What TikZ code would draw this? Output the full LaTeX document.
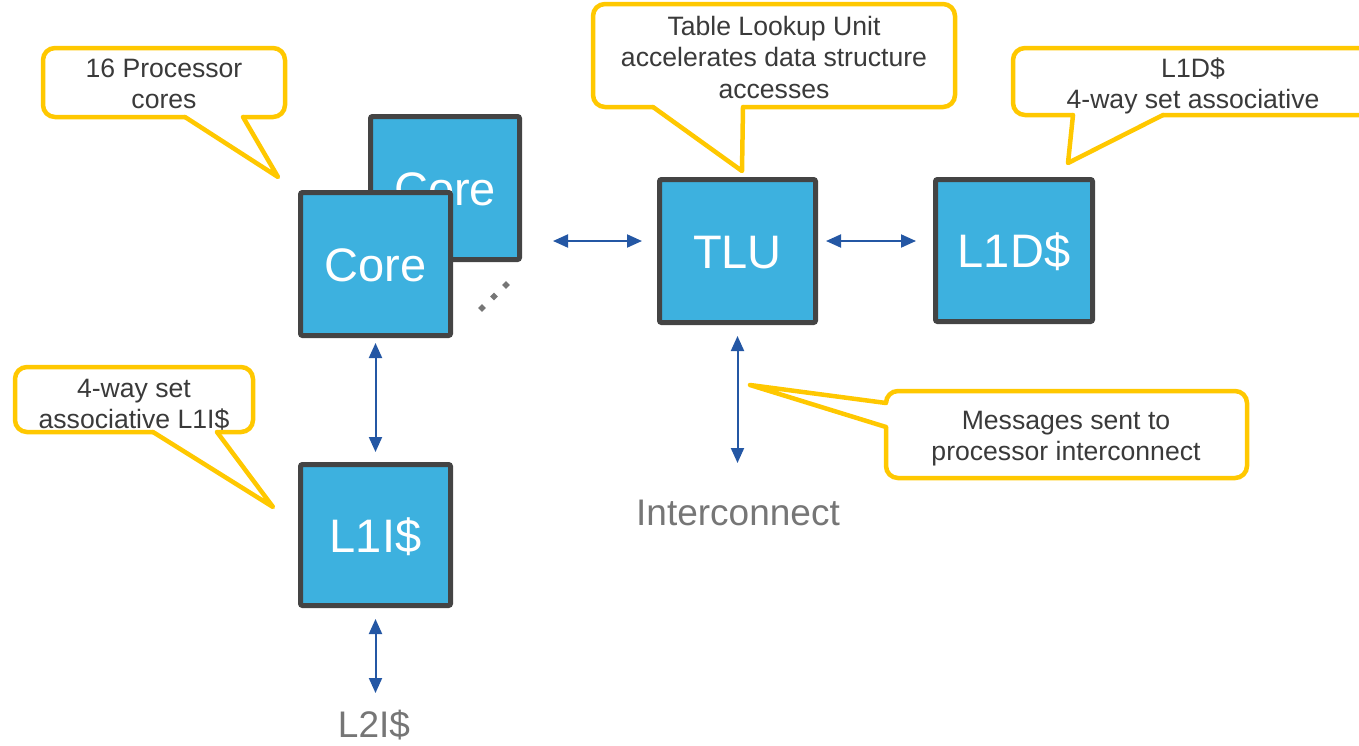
\documentclass[tikz,border=0pt]{standalone}
\usepackage{fontspec}
\setmainfont{Liberation Sans}
\usetikzlibrary{arrows.meta,calc,shapes.geometric}

\definecolor{boxfill}{HTML}{3DB1DF}
\definecolor{boxedge}{HTML}{444444}
\definecolor{linkblue}{HTML}{2457A4}
\definecolor{calloutyellow}{HTML}{FFC800}
\definecolor{notetext}{HTML}{3A3A3A}
\definecolor{endtext}{HTML}{767676}

\tikzset{
  unit/.style={draw=boxedge, fill=boxfill, line width=5pt, rounded corners=2pt,
    inner sep=0pt, outer sep=0pt, text=white,
    font=\fontsize{47}{56}\selectfont, text height=34pt, text depth=0pt},
  link/.style={draw=linkblue, line width=2pt,
    {Triangle[length=15pt,width=13pt]}-{Triangle[length=15pt,width=13pt]}},
  balloon/.style={draw=calloutyellow, fill=white, line width=4.5pt, rounded corners=12pt},
  tail/.style={draw=calloutyellow, line width=4.5pt, line join=round, line cap=round},
  note/.style={text=notetext, font=\fontsize{26.6}{31.5}\selectfont, align=center,
    inner sep=0pt, anchor=north},
  endlabel/.style={text=endtext, font=\fontsize{37}{44}\selectfont, inner sep=0pt, anchor=base},
  dotmark/.style={diamond, fill=endtext, inner sep=0pt, minimum size=8pt}
}
\newcommand{\firstline}{\rule{0pt}{20pt}}

\begin{document}
\begin{tikzpicture}[x=1pt, y=-1pt]
\useasboundingbox (0,0) rectangle (1359,745);

% processing units
\node[unit, minimum width=149pt, minimum height=143pt] (coreback) at (445,188) {Core};
\node[unit, minimum width=150pt, minimum height=143pt] (core) at (375.5,264) {Core};
\node[unit, minimum width=156pt, minimum height=143pt] (tlu) at (737.5,251) {TLU};
\node[unit, minimum width=157pt, minimum height=142pt] (l1d) at (1014,250.5) {L1D\$};
\node[unit, minimum width=150pt, minimum height=141pt] (l1i) at (375.5,535) {L1I\$};

% more cores follow
\node[dotmark] (dot1) at (482,308) {};
\node[dotmark] (dot2) at (494,296.5) {};
\node[dotmark] (dot3) at (506,285) {};

% external endpoints
\node[endlabel] (bus) at (738,525) {Interconnect};
\node[endlabel] (l2i) at (374,737) {L2I\$};
\coordinate (busend) at (737.5,463);
\coordinate (l2iend) at (375,693);
\coordinate (corelink) at (553,241);

% links
\draw[link, shorten <=7.5pt, shorten >=12.5pt] (core.south) -- (l1i.north);
\draw[link, shorten <=13.5pt] (l1i.south) -- (l1i.south |- l2iend);
\draw[link, shorten <=13.5pt] (tlu.south) -- (tlu.south |- busend);
\draw[link, shorten >=17.5pt] (corelink) -- (corelink -| tlu.west);
\draw[link, shorten <=10.5pt, shorten >=19.5pt] ($(tlu.east)+(0,-10)$) -- ($(l1d.west)+(0,-9.5)$);

% callout: processor cores
\draw[balloon] (43,48) rectangle (285,117);
\fill[white] (185,112) -- (185,117) -- (278,177) -- (243,117) -- (243,112) -- cycle;
\draw[tail] (185,117) -- (278,177) -- (243,117);
\node[note] (notecores) at (164,57) {\firstline 16 Processor\\cores};

% callout: table lookup unit
\draw[balloon] (593,4) rectangle (955,107);
\fill[white] (653,102) -- (653,107) -- (742,171) -- (743,107) -- (743,102) -- cycle;
\draw[tail] (653,107) -- (742,171) -- (743,107);
\node[note] (notetlu) at (774,15) {\firstline Table Lookup Unit\\accelerates data structure\\accesses};

% callout: data cache
\draw[balloon] (1013,48) rectangle (1373,115);
\fill[white] (1073,110) -- (1073,115) -- (1068,163) -- (1163,115) -- (1163,110) -- cycle;
\draw[tail] (1073,115) -- (1068,163) -- (1163,115);
\node[note] (notel1d) at (1193,57) {\firstline L1D\$\\4-way set associative};

% callout: interconnect messages
\draw[balloon] (886,391) rectangle (1247,478);
\fill[white] (891,403) -- (886,403) -- (750,385) -- (886,427) -- (891,427) -- cycle;
\draw[tail] (886,403) -- (750,385) -- (886,427);
\node[note] (notebus) at (1066,409) {\firstline Messages sent to\\processor interconnect};

% callout: instruction cache
\draw[balloon] (15,367) rectangle (253,432);
\fill[white] (153,427) -- (153,432) -- (273,507) -- (217,432) -- (217,427) -- cycle;
\draw[tail] (153,432) -- (273,507) -- (217,432);
\node[note] (notel1i) at (134,377) {\firstline 4-way set\\associative L1I\$};
\end{tikzpicture}
\end{document}
